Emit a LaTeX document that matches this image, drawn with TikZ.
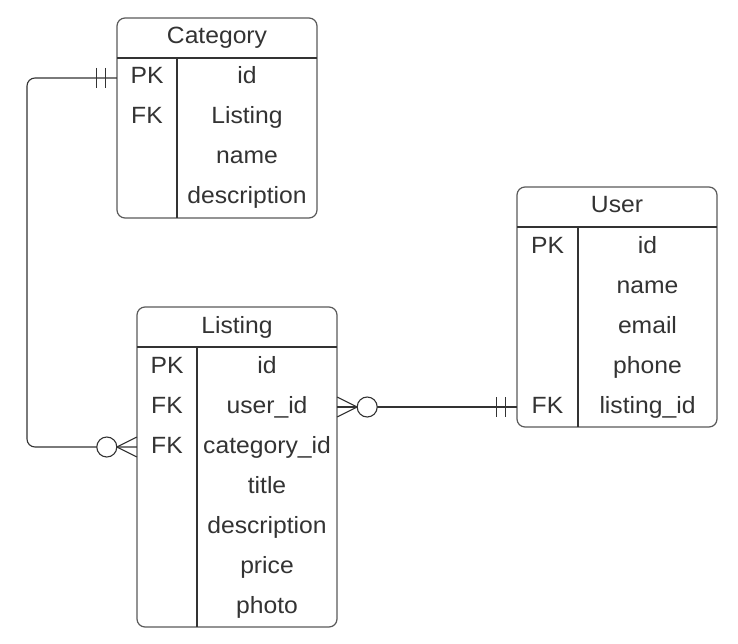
\documentclass[tikz,border=0pt]{standalone}
\usepackage{fontspec}
\setmainfont{Liberation Sans}[FakeStretch=1.05]
\usetikzlibrary{calc}
\definecolor{ink}{HTML}{333333}
\definecolor{boxline}{HTML}{5A5A5A}
\tikzset{
  erbox/.style={draw=boxline, line width=1.2pt, rounded corners=8pt, inner sep=0pt},
  sepline/.style={draw=ink, line width=1.1pt},
  cell/.style={inner sep=0pt, minimum height=40pt, text height=17pt, text depth=5pt, text=ink, font=\fontsize{23.5}{26}\selectfont, anchor=center},
  keycell/.style={cell, minimum width=60pt},
  valcell/.style={cell, minimum width=140pt},
  titlecell/.style={cell, minimum width=200pt},
  conn/.style={draw=ink, line width=1.1pt},
  ring/.style={draw=ink, fill=white, line width=1.1pt, circle, minimum size=20pt, inner sep=0pt}
}
\begin{document}
\begin{tikzpicture}[x=1pt, y=-1pt]
\useasboundingbox (0,0) rectangle (738,644);
\fill[white] (0,0) rectangle (738,644);

% ---------- Category ----------
\draw[erbox] (117,18) rectangle (317,218);
\draw[sepline] (117,58) -- (317,58);
\draw[sepline] (177,58) -- (177,218);
\node[titlecell] (cat-title) at (217,38) {Category};
\node[keycell] (cat-pk) at (147,78) {PK};
\node[keycell] (cat-fk) at (147,118) {FK};
\node[valcell] (cat-id) at (247,78) {id};
\node[valcell] (cat-listing) at (247,118) {Listing};
\node[valcell] (cat-name) at (247,158) {name};
\node[valcell] (cat-desc) at (247,198) {description};

% ---------- Listing ----------
\draw[erbox] (137,307) rectangle (337,627);
\draw[sepline] (137,347) -- (337,347);
\draw[sepline] (197,347) -- (197,627);
\node[titlecell] (lst-title) at (237,327) {Listing};
\node[keycell] (lst-pk) at (167,367) {PK};
\node[keycell] (lst-fk1) at (167,407) {FK};
\node[keycell] (lst-fk2) at (167,447) {FK};
\node[valcell] (lst-id) at (267,367) {id};
\node[valcell] (lst-user) at (267,407) {user\_id};
\node[valcell] (lst-cat) at (267,447) {category\_id};
\node[valcell] (lst-title2) at (267,487) {title};
\node[valcell] (lst-desc) at (267,527) {description};
\node[valcell] (lst-price) at (267,567) {price};
\node[valcell] (lst-photo) at (267,607) {photo};

% ---------- User ----------
\draw[erbox] (517,187) rectangle (717,427);
\draw[sepline] (517,227) -- (717,227);
\draw[sepline] (578,227) -- (578,427);
\node[titlecell] (usr-title) at (617,207) {User};
\node[cell, minimum width=61pt] (usr-pk) at (547.5,247) {PK};
\node[cell, minimum width=61pt] (usr-fk) at (547.5,407) {FK};
\node[cell, minimum width=139pt] (usr-id) at (647.5,247) {id};
\node[cell, minimum width=139pt] (usr-name) at (647.5,287) {name};
\node[cell, minimum width=139pt] (usr-email) at (647.5,327) {email};
\node[cell, minimum width=139pt] (usr-phone) at (647.5,367) {phone};
\node[cell, minimum width=139pt] (usr-lid) at (647.5,407) {listing\_id};

% ---------- Category -- Listing ----------
\coordinate (bend1) at (27,78);
\coordinate (bend2) at (27,447);
\draw[conn, rounded corners=8pt] (cat-pk.west) -- (bend1) -- (bend2) -- (lst-fk2.west);
\draw[conn] ($(cat-pk.west)+(-20,-10)$) -- ++(0,20);
\draw[conn] ($(cat-pk.west)+(-11,-10)$) -- ++(0,20);
\draw[conn] ($(lst-fk2.west)+(0,-10)$) -- ($(lst-fk2.west)+(-20,0)$) -- ($(lst-fk2.west)+(0,10)$);
\node[ring] (ring1) at ($(lst-fk2.west)+(-30,0)$) {};

% ---------- Listing -- User ----------
\draw[conn] (lst-user.east) -- (usr-fk.west);
\draw[conn] ($(usr-fk.west)+(-20,-10)$) -- ++(0,20);
\draw[conn] ($(usr-fk.west)+(-11,-10)$) -- ++(0,20);
\draw[conn] ($(lst-user.east)+(0,-10)$) -- ($(lst-user.east)+(20,0)$) -- ($(lst-user.east)+(0,10)$);
\node[ring] (ring2) at ($(lst-user.east)+(30,0)$) {};
\end{tikzpicture}
\end{document}
